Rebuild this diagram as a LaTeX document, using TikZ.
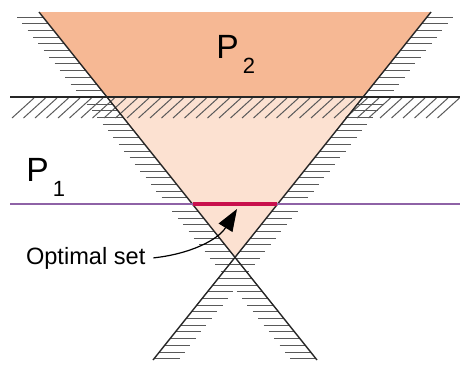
\documentclass[tikz,border=0pt]{standalone}
\usepackage{fontspec}
\setmainfont{Liberation Sans}
\usepackage{xcolor}
\usetikzlibrary{arrows.meta}

\definecolor{upperfill}{HTML}{F6B894}
\definecolor{lowerfill}{HTML}{FCE1D1}
\definecolor{boundline}{HTML}{8E62A6}
\definecolor{optline}{HTML}{C8104C}

\newcommand{\Psub}[1]{P\hspace{2pt}\raisebox{-7.5pt}{\fontsize{11}{11}\selectfont #1}}

\begin{document}
\begin{tikzpicture}[x=0.5pt, y=-0.5pt,
  edge/.style={draw=black!85, line width=0.7pt},
  hatch/.style={draw=black!65, line width=0.5pt},
  plabel/.style={font=\fontsize{16.8}{18}\selectfont, inner sep=0pt, anchor=base west}]
  \useasboundingbox (0,0) rectangle (460,370);

  \coordinate (ltop) at (39,12);
  \coordinate (lbot) at (317,360);
  \coordinate (rtop) at (431,12);
  \coordinate (rbot) at (153,360);
  \coordinate (lcut) at (107,97);
  \coordinate (rcut) at (363,97);
  \coordinate (apex) at (235,257);
  \coordinate (optl) at (192.6,204);
  \coordinate (optr) at (277.4,204);
  \coordinate (optpt) at (237,209);

  \fill[upperfill] (ltop) -- (rtop) -- (rcut) -- (lcut) -- cycle;
  \fill[lowerfill] (lcut) -- (rcut) -- (apex) -- cycle;

  \foreach \k in {0,...,51} {
    \pgfmathsetmacro{\hy}{17+6.7*\k}
    \pgfmathsetmacro{\lx}{39+0.8*(\hy-12)}
    \pgfmathsetmacro{\rx}{431-0.8*(\hy-12)}
    \draw[hatch] ({\lx-26},\hy) -- (\lx,\hy);
    \draw[hatch] (\rx,\hy) -- ({\rx+26},\hy);
  }
  \foreach \hx in {12,23.5,...,440}
    \draw[hatch] (\hx,118) -- ({\hx+22},98);

  \draw[edge] (10,97) -- (460,97);
  \draw[edge] (ltop) -- (lbot);
  \draw[edge] (rtop) -- (rbot);

  \draw[boundline, line width=1.3pt] (10,204) -- (460,204);
  \draw[optline, line width=1.6pt] (optl) -- (optr);

  \node[plabel] (ptwo) at (216,58) {\Psub{2}};
  \node[plabel] (pone) at (26,181) {\Psub{1}};
  \node[plabel, font=\fontsize{11.8}{14}\selectfont, outer xsep=4pt, outer ysep=0pt] (optset) at (18,264) {Optimal set};

  \draw[line width=0.6pt, -{Triangle[length=11pt, width=8pt]}] (optset.east) .. controls (190,254) and (218,240) .. (optpt);
\end{tikzpicture}
\end{document}
